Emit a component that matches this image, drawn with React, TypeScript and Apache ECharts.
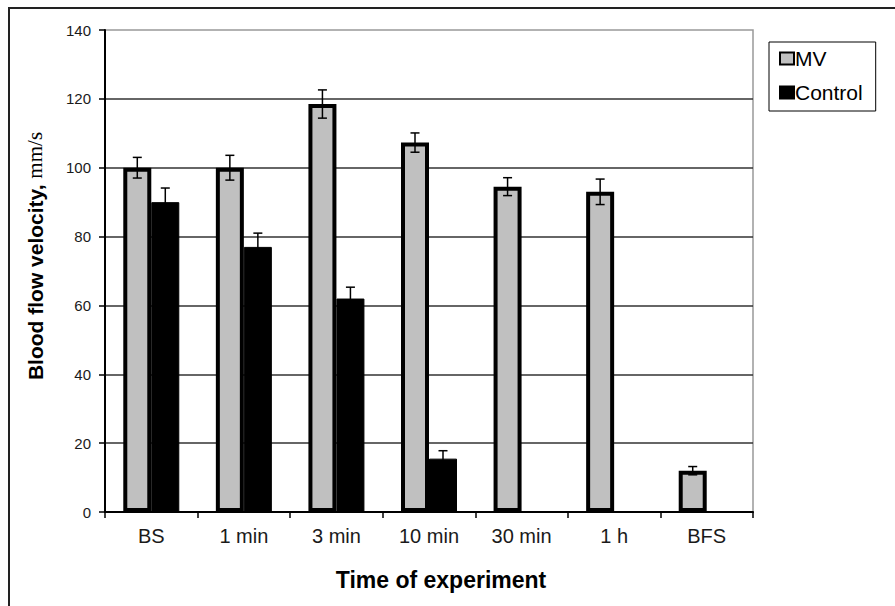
import React, { useEffect, useRef } from "react";
import * as echarts from "echarts";

const categories = ["BS", "1 min", "3 min", "10 min", "30 min", "1 h", "BFS"];
const mvValues = [100, 100, 118.5, 107.3, 94.5, 93, 12];
const mvErrors = [3, 3.6, 4.1, 2.8, 2.6, 3.7, 1.2];
const controlValues: (number | null)[] = [90, 77, 62, 15.5, null, null, null];
const controlErrors: (number | null)[] = [4.1, 4, 3.3, 2.3, null, null, null];

const FONT = "'Liberation Sans', Arial, sans-serif";

const makeErr = (offset: number) => (params: any, api: any) => {
  const i = api.value(0);
  const v = api.value(1);
  const e = api.value(2);
  const top = api.coord([i, v + e]);
  const bot = api.coord([i, v - e]);
  const x = top[0] + offset;
  const cap = 4.5;
  const st = { stroke: "#000", lineWidth: 1.5 };
  return {
    type: "group",
    children: [
      { type: "line", shape: { x1: x, y1: top[1], x2: x, y2: bot[1] }, style: st },
      { type: "line", shape: { x1: x - cap, y1: top[1], x2: x + cap, y2: top[1] }, style: st },
      { type: "line", shape: { x1: x - cap, y1: bot[1], x2: x + cap, y2: bot[1] }, style: st },
    ],
  };
};

export default function App() {
  const ref = useRef<HTMLDivElement>(null);
  useEffect(() => {
    if (!ref.current) return;
    const chart = echarts.init(ref.current, undefined, { renderer: "svg" });
    const mvErrData = mvValues.map((v, i) => [i, v, mvErrors[i]]);
    const ctrlErrData = controlValues
      .map((v, i) => (v == null ? null : [i, v, controlErrors[i] as number]))
      .filter((d) => d != null);
    chart.setOption({
      animation: false,
      backgroundColor: "#fff",
      textStyle: { fontFamily: FONT },
      grid: {
        left: 105,
        right: 142,
        top: 30,
        bottom: 94,
        show: true,
        borderColor: "#999",
        borderWidth: 1.5,
        backgroundColor: "#fff",
      },
      legend: {
        data: ["MV", "Control"],
        orient: "vertical",
        left: 769,
        top: 42,
        icon: "rect",
        borderColor: "#000",
        borderWidth: 1,
        padding: [6, 13, 8, 10],
        itemWidth: 14,
        itemHeight: 12,
        itemGap: 13,
        textStyle: { fontSize: 21, color: "#000", fontFamily: FONT, padding: [0, 0, 0, -4] },
      },
      xAxis: {
        type: "category",
        data: categories,
        axisLine: { lineStyle: { color: "#000", width: 2 } },
        axisTick: { show: true, length: 6, lineStyle: { color: "#000", width: 1.5 } },
        axisLabel: { fontSize: 20, color: "#1a1a1a", margin: 14, fontFamily: FONT },
        splitLine: { show: false },
      },
      yAxis: {
        type: "value",
        min: 0,
        max: 140,
        interval: 20,
        axisLine: { show: true, lineStyle: { color: "#000", width: 2 } },
        axisTick: { show: true, length: 6, lineStyle: { color: "#000", width: 1.5 } },
        axisLabel: { fontSize: 15, color: "#1a1a1a", margin: 14, fontFamily: FONT },
        splitLine: { show: true, showMaxLine: false, lineStyle: { color: "#333", width: 1.5 } },
      },
      series: [
        {
          name: "MV",
          type: "bar",
          data: mvValues,
          barWidth: 28,
          barGap: "0%",
          itemStyle: { color: "#c0c0c0", borderColor: "#000", borderWidth: 4 },
          z: 3,
        },
        {
          name: "Control",
          type: "bar",
          data: controlValues,
          barWidth: 28,
          barGap: "0%",
          itemStyle: { color: "#000", borderColor: "#000", borderWidth: 1 },
          z: 2,
        },
        {
          name: "MV error",
          type: "custom",
          renderItem: makeErr(-14),
          data: mvErrData,
          encode: { x: 0, y: 1 },
          z: 10,
        },
        {
          name: "Control error",
          type: "custom",
          renderItem: makeErr(14),
          data: ctrlErrData,
          encode: { x: 0, y: 1 },
          z: 10,
        },
      ],
      graphic: [
        {
          type: "rect",
          shape: { x: 9, y: 8, width: 1000, height: 1000 },
          style: { fill: "none", stroke: "#222", lineWidth: 2 },
          silent: true,
        },
        {
          type: "text",
          x: 35,
          y: 256,
          rotation: Math.PI / 2,
          style: {
            text: "{a|Blood flow velocity, }{b|mm/s}",
            align: "center",
            verticalAlign: "middle",
            rich: {
              a: { fontSize: 21, fontWeight: "bold", fontFamily: FONT, fill: "#000" },
              b: { fontSize: 21, fontFamily: "'Liberation Serif', 'Times New Roman', serif", fill: "#000" },
            },
          },
        },
        {
          type: "text",
          x: 441,
          y: 580,
          style: {
            text: "Time of experiment",
            align: "center",
            verticalAlign: "middle",
            fontSize: 23,
            fontWeight: "bold",
            fontFamily: FONT,
            fill: "#000",
          },
        },
      ],
    });
    return () => chart.dispose();
  }, []);
  return (
    <div
      ref={ref}
      style={{ position: "fixed", left: 0, top: 0, width: 895, height: 606 }}
    />
  );
}
